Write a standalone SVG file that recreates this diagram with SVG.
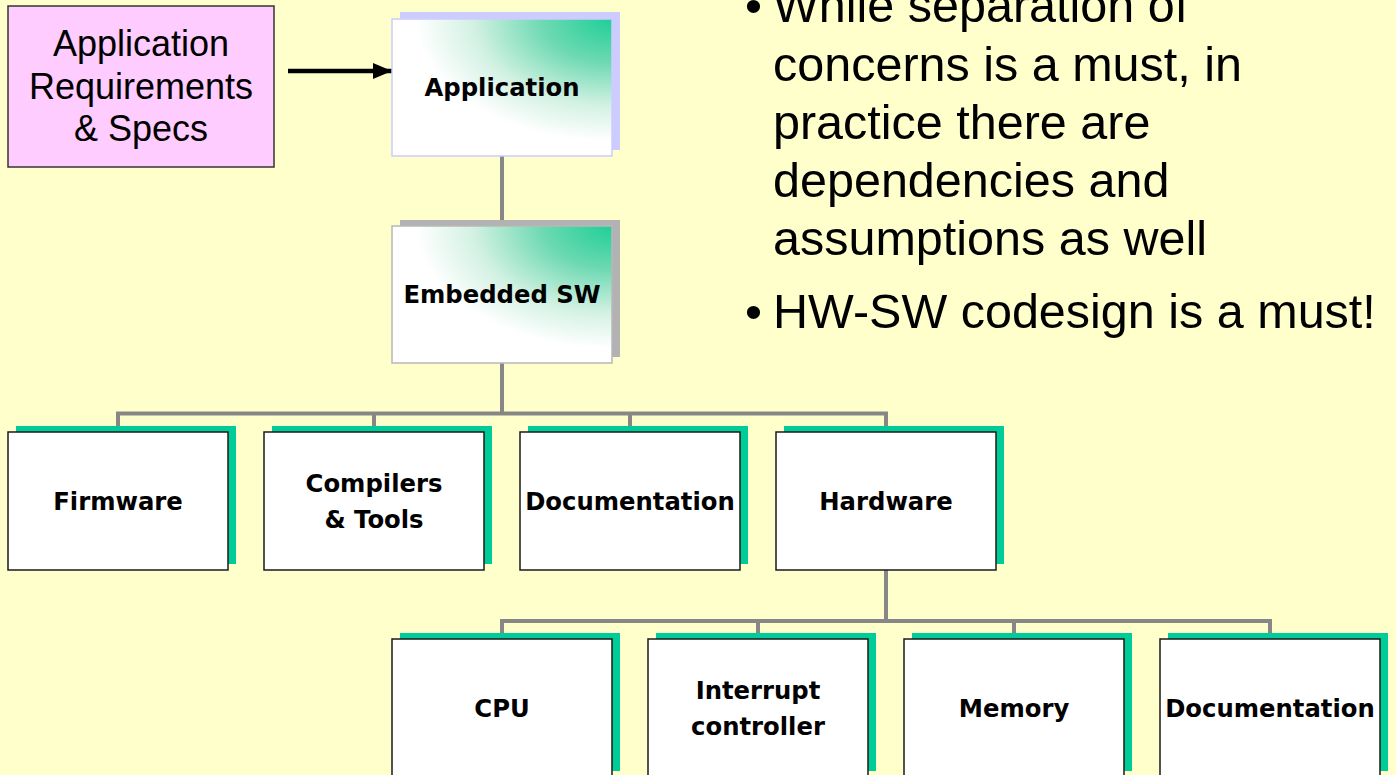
<svg xmlns="http://www.w3.org/2000/svg" width="1396" height="775" viewBox="0 0 1396 775">
  <defs>
    <radialGradient id="topFill" cx="1" cy="0" r="1.05" fx="1" fy="0">
      <stop offset="0" stop-color="#1ecf97"/>
      <stop offset="0.3" stop-color="#6dd9b2"/>
      <stop offset="0.6" stop-color="#d2f1e3"/>
      <stop offset="0.85" stop-color="#ffffff"/>
      <stop offset="1" stop-color="#ffffff"/>
    </radialGradient>
    <marker id="arrowHead" viewBox="0 0 19 16" refX="19" refY="8" markerWidth="19" markerHeight="16" markerUnits="userSpaceOnUse" orient="auto">
      <path d="M0,0 L19,8 L0,16 Z" fill="#000"/>
    </marker>
  </defs>
  <style>
    .bg { fill: #ffffcc; }
    .link { fill: none; stroke: #878787; stroke-width: 4; }
    .shadow-teal { fill: #00cc99; }
    .box { fill: #ffffff; stroke: #1a1a1a; stroke-width: 1.5; }
    .label { font-family: "DejaVu Sans", Verdana, sans-serif; font-weight: bold; font-size: 24.3px; fill: #000; text-anchor: middle; }
    .note { font-family: "Liberation Sans", Arial, sans-serif; font-size: 48.5px; fill: #000; }
    .req { font-family: "Liberation Sans", Arial, sans-serif; font-size: 36px; fill: #000; text-anchor: middle; }
  </style>

  <rect class="bg" x="0" y="0" width="1396" height="775"/>

  <!-- tree connectors and input arrow -->
  <g id="connectors">
    <line class="link" x1="502" y1="156" x2="502" y2="226"/>
    <path class="link" d="M502,363 V413.5 M118,432 V413.5 H886 V432 M374,413.5 V432 M630,413.5 V432"/>
    <path class="link" d="M886,570 V621 M502,639 V621 H1270 V639 M758,621 V639 M1014,621 V639"/>
    <line x1="288" y1="71" x2="392" y2="71" stroke="#000" stroke-width="4.5" marker-end="url(#arrowHead)"/>
  </g>

  <g id="requirements">
    <rect x="8" y="6" width="266" height="161" fill="#ffccff" stroke="#333" stroke-width="1.5"/>
    <text class="req" x="141" y="56">Application</text>
    <text class="req" x="141" y="99">Requirements</text>
    <text class="req" x="141" y="141">&amp; Specs</text>
  </g>

  <g id="application">
    <rect x="400" y="12" width="220" height="138" fill="#ccccff"/>
    <rect x="392" y="19" width="220" height="137" fill="url(#topFill)" stroke="#ccccff" stroke-width="1.5"/>
    <text class="label" x="502" y="96">Application</text>
  </g>

  <g id="embedded-sw">
    <rect x="400" y="220" width="220" height="137" fill="#b2b2b2"/>
    <rect x="392" y="226" width="220" height="137" fill="url(#topFill)" stroke="#b8b8b8" stroke-width="1.5"/>
    <text class="label" x="502" y="303">Embedded SW</text>
  </g>

  <g id="firmware">
    <rect class="shadow-teal" x="16" y="426" width="220" height="138"/>
    <rect class="box" x="8" y="432" width="220" height="138"/>
    <text class="label" x="118" y="510">Firmware</text>
  </g>

  <g id="compilers-tools">
    <rect class="shadow-teal" x="272" y="426" width="220" height="138"/>
    <rect class="box" x="264" y="432" width="220" height="138"/>
    <text class="label" x="374" y="492">Compilers</text>
    <text class="label" x="374" y="528">&amp; Tools</text>
  </g>

  <g id="sw-documentation">
    <rect class="shadow-teal" x="528" y="426" width="220" height="138"/>
    <rect class="box" x="520" y="432" width="220" height="138"/>
    <text class="label" x="630" y="510">Documentation</text>
  </g>

  <g id="hardware">
    <rect class="shadow-teal" x="784" y="426" width="220" height="138"/>
    <rect class="box" x="776" y="432" width="220" height="138"/>
    <text class="label" x="886" y="510">Hardware</text>
  </g>

  <g id="cpu">
    <rect class="shadow-teal" x="400" y="633" width="220" height="138"/>
    <rect class="box" x="392" y="639" width="220" height="138"/>
    <text class="label" x="502" y="717">CPU</text>
  </g>

  <g id="interrupt-controller">
    <rect class="shadow-teal" x="656" y="633" width="220" height="138"/>
    <rect class="box" x="648" y="639" width="220" height="138"/>
    <text class="label" x="758" y="699">Interrupt</text>
    <text class="label" x="758" y="735">controller</text>
  </g>

  <g id="memory">
    <rect class="shadow-teal" x="912" y="633" width="220" height="138"/>
    <rect class="box" x="904" y="639" width="220" height="138"/>
    <text class="label" x="1014" y="717">Memory</text>
  </g>

  <g id="hw-documentation">
    <rect class="shadow-teal" x="1168" y="633" width="220" height="138"/>
    <rect class="box" x="1160" y="639" width="220" height="138"/>
    <text class="label" x="1270" y="717">Documentation</text>
  </g>

  <g id="notes">
    <text class="note" x="745" y="22">•</text>
    <text class="note" x="773" y="22">While separation of</text>
    <text class="note" x="773" y="81">concerns is a must, in</text>
    <text class="note" x="773" y="139">practice there are</text>
    <text class="note" x="773" y="197">dependencies and</text>
    <text class="note" x="773" y="255">assumptions as well</text>
    <text class="note" x="745" y="328">•</text>
    <text class="note" x="773" y="328">HW-SW codesign is a must!</text>
  </g>
</svg>
